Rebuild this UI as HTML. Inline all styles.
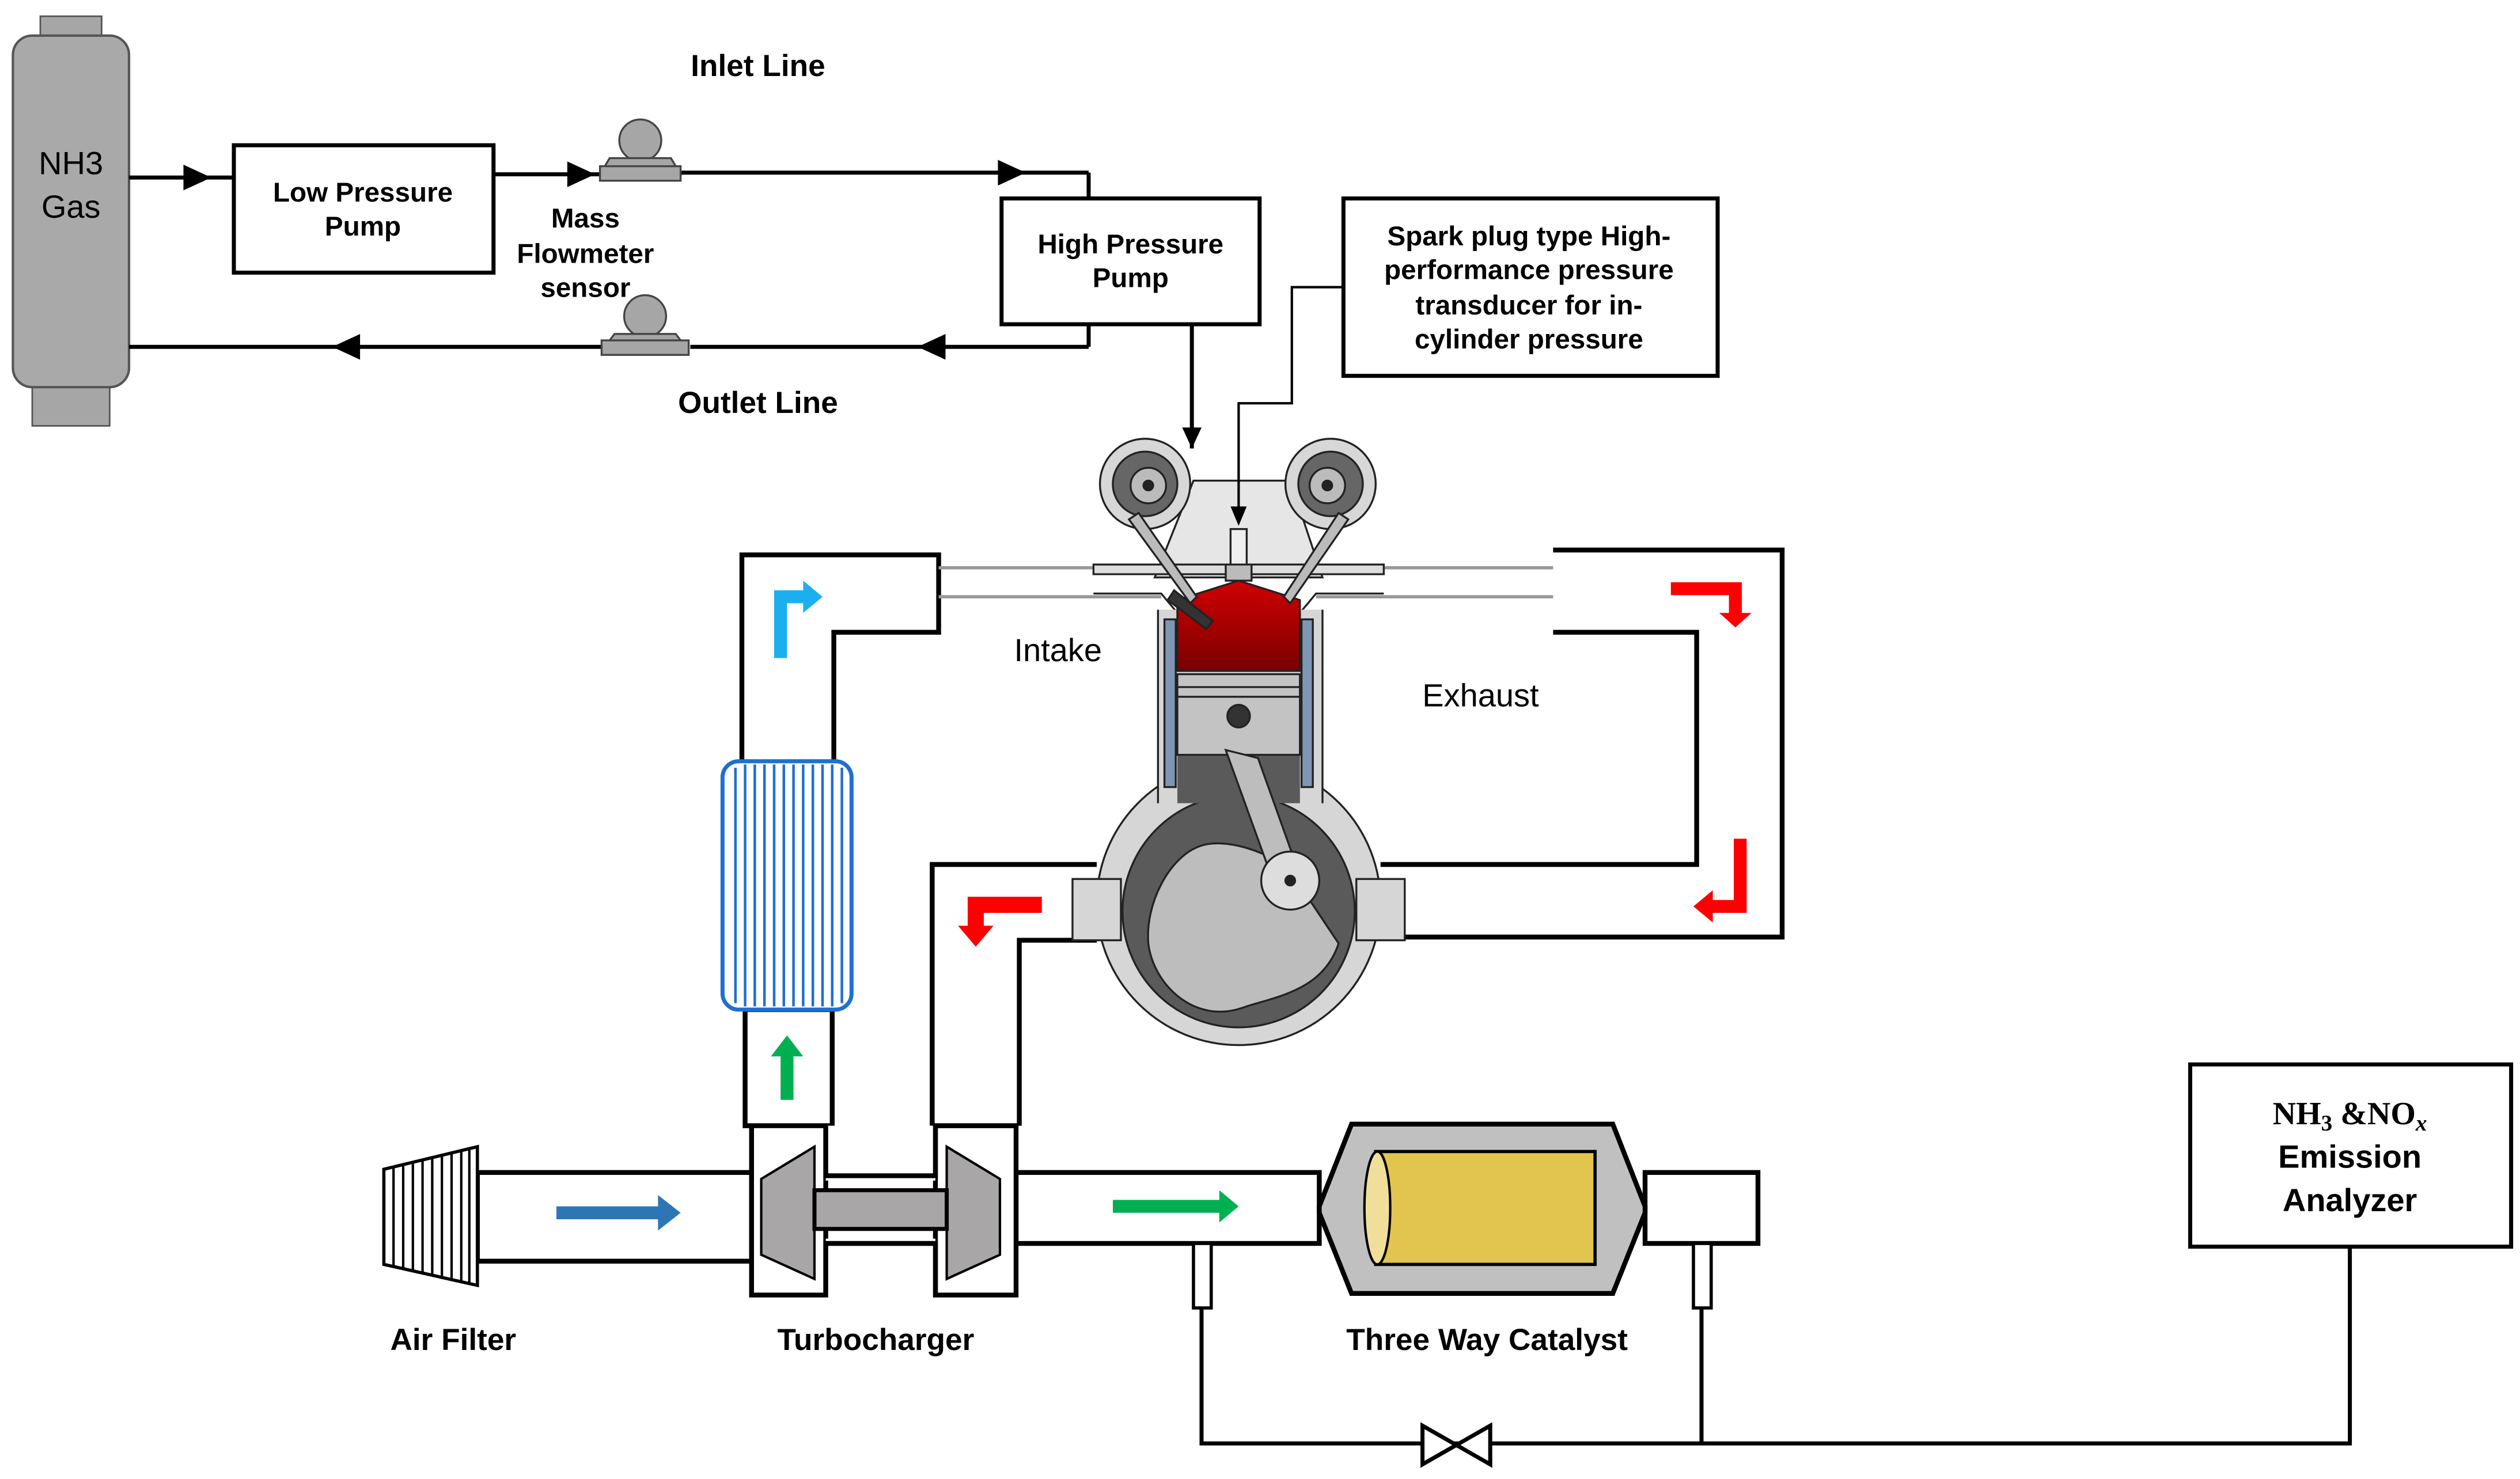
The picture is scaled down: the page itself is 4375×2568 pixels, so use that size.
<!DOCTYPE html>
<html><head><meta charset="utf-8"><style>
html,body{margin:0;padding:0;background:#fff}
svg{display:block}
text{font-family:"Liberation Sans","DejaVu Sans",sans-serif;fill:#000}
.b{font-weight:bold}
</style></head><body>
<svg width="4375" height="2568" viewBox="0 0 1562.5 917" xmlns="http://www.w3.org/2000/svg">
<defs>
<linearGradient id="red" x1="0" y1="0" x2="0" y2="1"><stop offset="0" stop-color="#d00000"/><stop offset="1" stop-color="#7a0000"/></linearGradient>
</defs>
<g fill="none" stroke="#000" stroke-width="2.5">
<rect x="25" y="10" width="38" height="16" fill="#a6a6a6" stroke="#555" stroke-width="1"/>
<rect x="20" y="238" width="48" height="26" fill="#a6a6a6" stroke="#555" stroke-width="1"/>
<rect x="8" y="22" width="72" height="218" rx="12" fill="#a9a9a9" stroke="#555" stroke-width="1.5"/>
<line x1="80" y1="110" x2="145" y2="110"/>
<path d="M115,104L128,110L115,116z" fill="#000"/>
<rect x="145" y="90" width="161" height="79" fill="#fff"/>
<line x1="306" y1="108" x2="372" y2="108"/>
<path d="M353,102L366,108L353,114z" fill="#000"/>
<line x1="422" y1="107" x2="675" y2="107"/>
<path d="M620,101L633,107L620,113z" fill="#000"/>
<line x1="675" y1="107" x2="675" y2="123"/>
<rect x="621" y="123" width="160" height="78" fill="#fff"/>
<line x1="675" y1="201" x2="675" y2="215"/>
<line x1="675" y1="215" x2="428" y2="215"/>
<line x1="375" y1="215" x2="80" y2="215"/>
<path d="M585,209L572,215L585,221z" fill="#000"/>
<path d="M222,209L209,215L222,221z" fill="#000"/>
<rect x="833" y="123" width="232" height="110" fill="#fff"/>
</g>
<g stroke="#444" stroke-width="1.2" fill="#a6a6a6">
<circle cx="397" cy="87" r="13"/><path d="M378,98h38l6,10h-50z"/><rect x="372" y="103" width="50" height="9"/>
<circle cx="400" cy="196" r="13"/><path d="M381,207h38l6,8h-50z"/><rect x="373" y="211" width="54" height="9"/>
</g>
<g fill="#fff" stroke="#000" stroke-width="3">
<path d="M460,472V344H582V392H517V472"/>
<path d="M963,341H1105V581H856M963,392H1052V536H856"/>
<path d="M680,536H578V698M680,583H632V698"/>
<rect x="462" y="626" width="54" height="72"/>
<rect x="296" y="727" width="170" height="55"/>
<rect x="630" y="727" width="188" height="44"/>
<rect x="1020" y="727" width="70" height="44"/>
</g>
<g stroke="#999" stroke-width="2"><line x1="582" y1="352" x2="720" y2="352"/><line x1="582" y1="370" x2="720" y2="370"/><line x1="816" y1="352" x2="963" y2="352"/><line x1="816" y1="370" x2="963" y2="370"/></g>
<rect x="448" y="472" width="80" height="154" rx="10" fill="#fff" stroke="#1f6fd1" stroke-width="2.5"/>
<g stroke="#1f6fd1" stroke-width="1.6">
<line x1="456" y1="476" x2="456" y2="622"/><line x1="462" y1="474" x2="462" y2="624"/><line x1="468" y1="474" x2="468" y2="624"/><line x1="474" y1="474" x2="474" y2="624"/><line x1="480" y1="474" x2="480" y2="624"/><line x1="486" y1="474" x2="486" y2="624"/><line x1="492" y1="474" x2="492" y2="624"/><line x1="498" y1="474" x2="498" y2="624"/><line x1="504" y1="474" x2="504" y2="624"/><line x1="510" y1="474" x2="510" y2="624"/><line x1="516" y1="474" x2="516" y2="624"/><line x1="522" y1="476" x2="522" y2="622"/>
</g>
<g stroke="#000" stroke-width="3" fill="#fff">
<rect x="466" y="698" width="46" height="105"/>
<rect x="580" y="698" width="50" height="105"/>
<path d="M578,698H630"/>
</g>
<path d="M505,711V793L472,778V731z" fill="#a8a6a6" stroke="#000" stroke-width="1.5"/>
<path d="M587,711V793L620,778V731z" fill="#a8a6a6" stroke="#000" stroke-width="1.5"/>
<rect x="505" y="738" width="82" height="24" fill="#a8a6a6" stroke="#000" stroke-width="2.5"/>
<rect x="512" y="698" width="68" height="34" fill="#fff" stroke="none"/>
<path d="M512,698V729H580V698" fill="none" stroke="#000" stroke-width="3"/>
<rect x="512" y="768" width="68" height="35" fill="#fff" stroke="none"/>
<path d="M512,803V771H580V803" fill="none" stroke="#000" stroke-width="3"/>
<path d="M238,725L296,711V797L238,784z" fill="#fff" stroke="#000" stroke-width="2"/>
<g stroke="#000" stroke-width="1.5"><line x1="244" y1="724" x2="244" y2="785"/><line x1="250" y1="722" x2="250" y2="787"/><line x1="256" y1="721" x2="256" y2="788"/><line x1="262" y1="719" x2="262" y2="790"/><line x1="268" y1="718" x2="268" y2="791"/><line x1="274" y1="716" x2="274" y2="793"/><line x1="280" y1="715" x2="280" y2="794"/><line x1="286" y1="713" x2="286" y2="795"/><line x1="291" y1="712" x2="291" y2="796"/></g>
<path d="M838,697H1000L1020,748V752L1000,802H838L818,752V748z" fill="#c0c0c0" stroke="#000" stroke-width="3"/>
<rect x="853" y="714" width="136" height="70" fill="#e1c54e" stroke="#000" stroke-width="2"/>
<ellipse cx="854" cy="749" rx="8" ry="35" fill="#f0df9a" stroke="#000" stroke-width="1.5"/>
<g fill="#fff" stroke="#000" stroke-width="2">
<rect x="740" y="771" width="11" height="40"/><rect x="1050" y="771" width="11" height="40"/>
</g>
<polyline points="745,811 745,895 1457,895 1457,773" fill="none" stroke="#000" stroke-width="2.5"/>
<line x1="1055" y1="811" x2="1055" y2="895" stroke="#000" stroke-width="2.5"/>
<path d="M882,884L924,908V884L882,908z" fill="#fff" stroke="#000" stroke-width="2.5"/>
<rect x="1358" y="660" width="199" height="113" fill="#fff" stroke="#000" stroke-width="2.5"/>
<path d="M345,748H408V741L422,752L408,763V756H345z" fill="#2e75b6"/>
<path d="M690,744H756V738L768,748L756,758V752H690z" fill="#00b050"/>
<path d="M484,682V655H478L488,642L498,655H492V682z" fill="#00b050"/>
<path d="M480,408V366H498V360L510,370L498,380V374H488V408z" fill="#1ab0f0"/>
<path d="M1036,361H1080V380H1086L1076,389L1066,380H1072V369H1036z" fill="#f00"/>
<path d="M1083,520V566H1062V572L1050,562L1062,552V558H1075V520z" fill="#f00"/>
<path d="M646,556H600V574H594L605,587L616,574H610V566H646z" fill="#f00"/>
<!-- engine -->
<g stroke="#222" stroke-width="1.2">
<path d="M740,298H800L820,358H716z" fill="#e6e6e6"/>
<circle cx="710" cy="300" r="28" fill="#d7d7d7"/><circle cx="710" cy="300" r="20" fill="#666"/><circle cx="712" cy="301" r="11" fill="#bbb"/><circle cx="712" cy="301" r="3" fill="#222"/>
<circle cx="825" cy="300" r="28" fill="#d7d7d7"/><circle cx="825" cy="300" r="20" fill="#666"/><circle cx="823" cy="301" r="11" fill="#bbb"/><circle cx="823" cy="301" r="3" fill="#222"/>
<path d="M678,350H858V356H678z" fill="#ddd"/>
<path d="M678,368H720L730,380H806L816,368H858" fill="none"/>
<circle cx="768" cy="560" r="88" fill="#d6d6d6"/>
<rect x="665" y="545" width="30" height="38" fill="#d6d6d6"/>
<rect x="841" y="545" width="30" height="38" fill="#d6d6d6"/>
<rect x="718" y="378" width="102" height="120" fill="#d6d6d6" stroke="none"/>
<path d="M718,378V498M820,378V498" fill="none"/>
<circle cx="768" cy="565" r="72" fill="#5a5a5a"/>
<rect x="730" y="418" width="76" height="80" fill="#5a5a5a" stroke="none"/>
<path d="M730,372L768,360L806,372V416H730z" fill="url(#red)"/>
<rect x="730" y="418" width="76" height="50" fill="#c3c3c3"/>
<line x1="730" y1="426" x2="806" y2="426"/><line x1="730" y1="432" x2="806" y2="432"/>
<circle cx="768" cy="444" r="7" fill="#333"/>
<rect x="722" y="384" width="7" height="104" fill="#7f96b3"/><rect x="807" y="384" width="7" height="104" fill="#7f96b3"/>
<path d="M743,525C760,518 790,530 800,540L830,585C820,615 790,618 770,625C740,635 715,610 712,585C710,560 725,532 743,525z" fill="#bdbdbd"/>
<path d="M760,465L780,470L805,540L790,548z" fill="#bdbdbd"/>
<circle cx="800" cy="546" r="18" fill="#ddd"/><circle cx="800" cy="546" r="3" fill="#222"/>
<path d="M706,318L742,370L738,374L700,322z" fill="#bbb"/>
<path d="M830,318L796,370L800,374L836,322z" fill="#bbb"/>
<rect x="763" y="328" width="10" height="24" fill="#eee"/><rect x="760" y="350" width="16" height="10" fill="#bbb"/>
<path d="M728,366L752,385L748,390L724,372z" fill="#333"/>
</g>
<g fill="none" stroke="#000">
<line x1="739" y1="201" x2="739" y2="278" stroke-width="2.5"/>
<polyline points="833,178 801,178 801,250 768,250 768,322" stroke-width="1.5"/>
</g>
<path d="M733,265L739,278L745,265z" fill="#000"/>
<path d="M763,314L768,326L773,314z" fill="#000"/>
<text x="44" y="108" font-size="20" text-anchor="middle">NH3</text>
<text x="44" y="135" font-size="20" text-anchor="middle">Gas</text>
<text x="225" y="125" font-size="17" text-anchor="middle" class="b">Low Pressure</text>
<text x="225" y="146" font-size="17" text-anchor="middle" class="b">Pump</text>
<text x="363" y="141" font-size="17" text-anchor="middle" class="b">Mass</text>
<text x="363" y="163" font-size="17" text-anchor="middle" class="b">Flowmeter</text>
<text x="363" y="184" font-size="17" text-anchor="middle" class="b">sensor</text>
<text x="470" y="47" font-size="19" text-anchor="middle" class="b">Inlet Line</text>
<text x="470" y="256" font-size="19" text-anchor="middle" class="b">Outlet Line</text>
<text x="701" y="157" font-size="17" text-anchor="middle" class="b">High Pressure</text>
<text x="701" y="178" font-size="17" text-anchor="middle" class="b">Pump</text>
<text x="948" y="152" font-size="17" text-anchor="middle" class="b">Spark plug type High-</text>
<text x="948" y="173" font-size="17" text-anchor="middle" class="b">performance pressure</text>
<text x="948" y="195" font-size="17" text-anchor="middle" class="b">transducer for in-</text>
<text x="948" y="216" font-size="17" text-anchor="middle" class="b">cylinder pressure</text>
<text x="656" y="410" font-size="20" text-anchor="middle">Intake</text>
<text x="918" y="438" font-size="20" text-anchor="middle">Exhaust</text>
<text x="281" y="837" font-size="19" text-anchor="middle" class="b">Air Filter</text>
<text x="543" y="837" font-size="19" text-anchor="middle" class="b">Turbocharger</text>
<text x="922" y="837" font-size="19" text-anchor="middle" class="b">Three Way Catalyst</text>
<text x="1457" y="697" font-size="20" text-anchor="middle" class="b" style="font-family:'Liberation Serif',serif">NH<tspan font-size="14" dy="4">3</tspan><tspan dy="-4"> &amp;NO</tspan><tspan font-size="14" dy="4" font-style="italic">x</tspan></text>
<text x="1457" y="724" font-size="20" text-anchor="middle" class="b">Emission</text>
<text x="1457" y="751" font-size="20" text-anchor="middle" class="b">Analyzer</text>
</svg>
</body></html>
